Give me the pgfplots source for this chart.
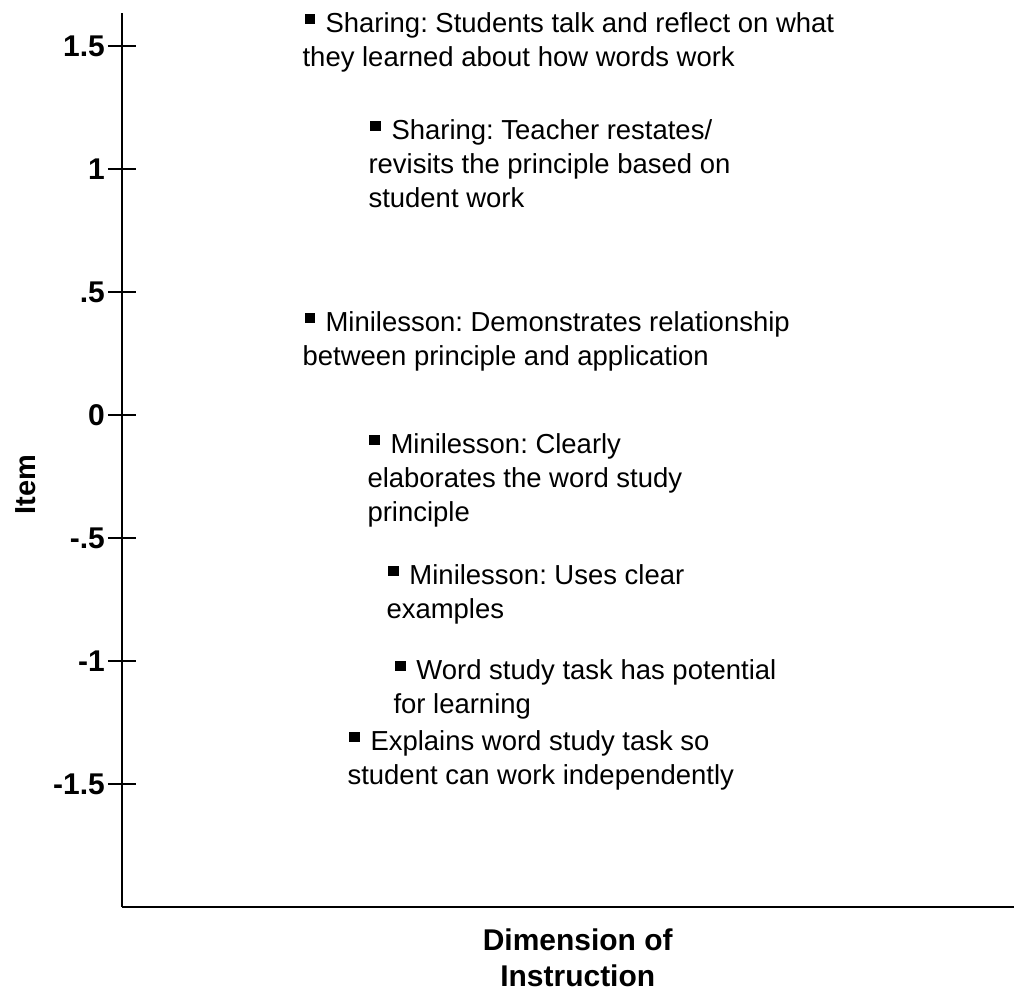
\documentclass[border=0pt]{standalone}
\usepackage{fontspec}
\setmainfont{Liberation Sans}
\usepackage{pgfplots}
\pgfplotsset{compat=1.18}
\frenchspacing
\newcommand{\itemfont}{\fontsize{13.75}{17}\selectfont}
\newcommand{\lbl}[1]{\begin{tabular}[t]{@{}l@{}}#1\end{tabular}}
\newcommand{\firstind}{\hspace*{11.5pt}}
\tikzset{
  itemlbl/.style={anchor=base west, inner sep=0pt, xshift=-3.75pt, yshift=-6.75pt, font=\itemfont, text=black},
  itempt/.style={black, only marks, mark=square*, mark size=2.4pt, mark options={solid, fill=black, draw=black}},
}
\begin{document}
\begin{tikzpicture}
\begin{axis}[
  scale only axis,
  width=446.5pt, height=447.5pt,
  xmin=0, xmax=893, ymin=-2, ymax=1.634,
  axis x line*=bottom, axis y line*=left,
  axis line style={black, line width=1pt, -},
  xtick=\empty,
  ytick={-1.5,-1,-0.5,0,0.5,1,1.5},
  yticklabels={-1.5,-1,-.5,0,.5,1,1.5},
  tick align=center, major tick length=14pt,
  tick style={black, line width=1pt},
  /pgf/number format/assume math mode=true,
  yticklabel style={font=\fontsize{15}{17}\selectfont\bfseries, xshift=2pt},
  xlabel={Dimension of\\Instruction},
  xlabel style={at={(rel axis cs:0.511,0)}, anchor=north, inner sep=0pt, yshift=-10.5pt,
    align=center, font=\fontsize{15}{18}\selectfont\bfseries},
  ylabel={Item},
  ylabel style={at={(rel axis cs:-0.0963,0.4726)}, anchor=south, inner sep=0pt,
    font=\fontsize{14.5}{17}\selectfont\bfseries},
  clip=false,
]
\addplot[itempt] coordinates {(188,1.610)} node[itemlbl]
  {\lbl{\firstind Sharing: Students talk and reflect on what\\they learned about how words work}};
\addplot[itempt] coordinates {(254,1.175)} node[itemlbl]
  {\lbl{\firstind Sharing: Teacher restates/\\revisits the principle based on\\student work}};
\addplot[itempt] coordinates {(188,0.394)} node[itemlbl]
  {\lbl{\firstind Minilesson: Demonstrates relationship\\between principle and application}};
\addplot[itempt] coordinates {(253,-0.102)} node[itemlbl]
  {\lbl{\firstind Minilesson: Clearly\\elaborates the word study\\principle}};
\addplot[itempt] coordinates {(272,-0.634)} node[itemlbl]
  {\lbl{\firstind Minilesson: Uses clear\\examples}};
\addplot[itempt] coordinates {(279,-1.020)} node[itemlbl]
  {\lbl{\firstind Word study task has potential\\for learning}};
\addplot[itempt] coordinates {(233,-1.309)} node[itemlbl]
  {\lbl{\firstind Explains word study task so\\student can work independently}};
\path (rel axis cs:-0.13662,-0.09274) rectangle (rel axis cs:1,1.014525);
\end{axis}
\end{tikzpicture}
\end{document}
